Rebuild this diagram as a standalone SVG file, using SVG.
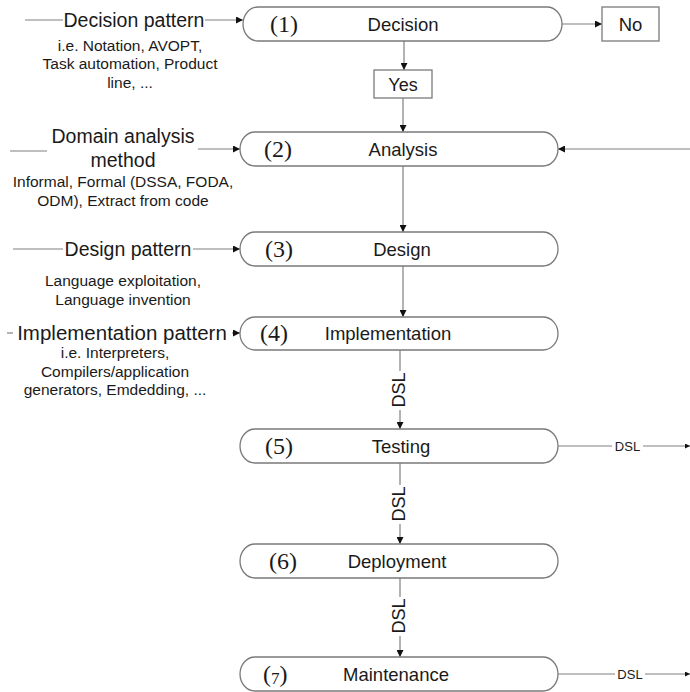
<svg xmlns="http://www.w3.org/2000/svg" width="690" height="692" viewBox="0 0 690 692">
  <style>
    .node { fill: #ffffff; stroke: #7a7a7a; stroke-width: 1.3; }
    .box { fill: #ffffff; stroke: #7a7a7a; stroke-width: 1.3; }
    .line { stroke: #808080; stroke-width: 1.2; fill: none; }
    .num { font-family: "Liberation Serif", "Times New Roman", serif; font-size: 24px; fill: #1a1a1a; }
    .lbl { font-family: "Liberation Sans", Arial, sans-serif; font-size: 18.5px; fill: #1a1a1a; }
    .pat { font-family: "Liberation Sans", Arial, sans-serif; font-size: 19.5px; fill: #1a1a1a; text-anchor: middle; }
    .desc { font-family: "Liberation Sans", Arial, sans-serif; font-size: 15.5px; fill: #1a1a1a; text-anchor: middle; }
    .dsl { font-family: "Liberation Sans", Arial, sans-serif; font-size: 18px; fill: #1a1a1a; text-anchor: middle; }
    .dslr { font-family: "Liberation Sans", Arial, sans-serif; font-size: 13px; fill: #1a1a1a; text-anchor: middle; }
  </style>
  <defs>
    <marker id="arrow" viewBox="0 0 10 10" refX="10" refY="5" markerWidth="8" markerHeight="7" markerUnits="userSpaceOnUse" orient="auto">
      <path d="M0,0 L10,5 L0,10 Z" fill="#111111"/>
    </marker>
    <marker id="arrowSmall" viewBox="0 0 10 10" refX="10" refY="5" markerWidth="6" markerHeight="5" markerUnits="userSpaceOnUse" orient="auto">
      <path d="M0,0 L10,5 L0,10 Z" fill="#111111"/>
    </marker>
  </defs>

  <!-- connectors -->
  <g id="connectors">
    <!-- inputs from the left -->
    <line class="line" x1="25" y1="20" x2="63" y2="20"/>
    <line class="line" x1="205" y1="20" x2="243" y2="20" marker-end="url(#arrow)"/>
    <line class="line" x1="10" y1="151" x2="47" y2="151"/>
    <line class="line" x1="198" y1="149" x2="240" y2="149" marker-end="url(#arrow)"/>
    <line class="line" x1="13" y1="249" x2="63" y2="249"/>
    <line class="line" x1="193" y1="249" x2="240" y2="249" marker-end="url(#arrow)"/>
    <line class="line" x1="7" y1="333" x2="13" y2="333"/>
    <line class="line" x1="232" y1="333" x2="240" y2="333" marker-end="url(#arrow)"/>

    <!-- decision outcomes -->
    <line class="line" x1="562" y1="24" x2="602" y2="24" marker-end="url(#arrow)"/>
    <line class="line" x1="404" y1="41" x2="404" y2="70" marker-end="url(#arrow)"/>
    <line class="line" x1="403" y1="98" x2="403" y2="132" marker-end="url(#arrow)"/>

    <!-- feedback into analysis -->
    <line class="line" x1="690" y1="149" x2="558" y2="149" marker-end="url(#arrow)"/>

    <!-- main flow -->
    <line class="line" x1="403" y1="166" x2="403" y2="232" marker-end="url(#arrow)"/>
    <line class="line" x1="403" y1="266" x2="403" y2="317" marker-end="url(#arrow)"/>

    <line class="line" x1="400" y1="350" x2="400" y2="371"/>
    <line class="line" x1="400" y1="410" x2="400" y2="429" marker-end="url(#arrow)"/>
    <text class="dsl" transform="translate(404.5,390) rotate(-90)">DSL</text>

    <line class="line" x1="400" y1="463" x2="400" y2="485"/>
    <line class="line" x1="400" y1="524" x2="400" y2="544" marker-end="url(#arrow)"/>
    <text class="dsl" transform="translate(404.5,504) rotate(-90)">DSL</text>

    <line class="line" x1="400" y1="578" x2="400" y2="597"/>
    <line class="line" x1="400" y1="636" x2="400" y2="657" marker-end="url(#arrow)"/>
    <text class="dsl" transform="translate(404.5,616) rotate(-90)">DSL</text>

    <!-- outputs to the right -->
    <line class="line" x1="558" y1="446" x2="612" y2="446"/>
    <line class="line" x1="643" y1="446" x2="690" y2="446" marker-end="url(#arrowSmall)"/>
    <text class="dslr" x="627.5" y="450.5">DSL</text>

    <line class="line" x1="558" y1="674" x2="615" y2="674"/>
    <line class="line" x1="645" y1="674" x2="690" y2="674" marker-end="url(#arrowSmall)"/>
    <text class="dslr" x="630" y="678.5">DSL</text>
  </g>

  <!-- input patterns -->
  <g id="decision-pattern">
    <text class="pat" x="134" y="27">Decision pattern</text>
    <text class="desc" x="130" y="50.5">i.e. Notation, AVOPT,</text>
    <text class="desc" x="130" y="69">Task automation, Product</text>
    <text class="desc" x="130" y="87.5">line, ...</text>
  </g>
  <g id="domain-analysis-method">
    <text class="pat" x="123" y="143">Domain analysis</text>
    <text class="pat" x="123" y="167">method</text>
    <text class="desc" x="123" y="187">Informal, Formal (DSSA, FODA,</text>
    <text class="desc" x="123" y="206">ODM), Extract from code</text>
  </g>
  <g id="design-pattern">
    <text class="pat" x="128" y="256">Design pattern</text>
    <text class="desc" x="123" y="285.5">Language exploitation,</text>
    <text class="desc" x="123" y="304.5">Language invention</text>
  </g>
  <g id="implementation-pattern">
    <text class="pat" x="122" y="340" style="font-size:20.5px">Implementation pattern</text>
    <text class="desc" x="115" y="358">i.e. Interpreters,</text>
    <text class="desc" x="115" y="376.5">Compilers/application</text>
    <text class="desc" x="115" y="394.5">generators, Emdedding, ...</text>
  </g>

  <!-- phases -->
  <g id="node-1">
    <rect class="node" x="243" y="7" width="319" height="34" rx="15" ry="17"/>
    <text class="num" x="270" y="32">(1)</text>
    <text class="lbl" x="403" y="31" text-anchor="middle">Decision</text>
  </g>
  <g id="node-no">
    <rect class="box" x="602" y="7" width="57" height="34"/>
    <text class="lbl" x="630.5" y="31" text-anchor="middle">No</text>
  </g>
  <g id="node-yes">
    <rect class="box" x="374" y="70" width="58" height="28"/>
    <text class="lbl" x="403" y="91" text-anchor="middle" style="font-size:18px">Yes</text>
  </g>
  <g id="node-2">
    <rect class="node" x="240" y="132" width="318" height="34" rx="15" ry="17"/>
    <text class="num" x="264" y="157">(2)</text>
    <text class="lbl" x="403" y="156" text-anchor="middle">Analysis</text>
  </g>
  <g id="node-3">
    <rect class="node" x="240" y="232" width="318" height="34" rx="15" ry="17"/>
    <text class="num" x="265" y="257">(3)</text>
    <text class="lbl" x="402" y="256" text-anchor="middle">Design</text>
  </g>
  <g id="node-4">
    <rect class="node" x="240" y="317" width="318" height="33" rx="15" ry="16.5"/>
    <text class="num" x="260" y="341">(4)</text>
    <text class="lbl" x="388" y="340" text-anchor="middle">Implementation</text>
  </g>
  <g id="node-5">
    <rect class="node" x="240" y="429" width="318" height="34" rx="15" ry="17"/>
    <text class="num" x="265" y="454">(5)</text>
    <text class="lbl" x="401" y="453" text-anchor="middle">Testing</text>
  </g>
  <g id="node-6">
    <rect class="node" x="240" y="544" width="318" height="34" rx="15" ry="17"/>
    <text class="num" x="269" y="569">(6)</text>
    <text class="lbl" x="397" y="568" text-anchor="middle">Deployment</text>
  </g>
  <g id="node-7">
    <rect class="node" x="240" y="657" width="318" height="34" rx="15" ry="17"/>
    <text class="num" x="263" y="682">(<tspan style="font-size:17px" dy="2">7</tspan><tspan dy="-2">)</tspan></text>
    <text class="lbl" x="396" y="681" text-anchor="middle">Maintenance</text>
  </g>
</svg>
